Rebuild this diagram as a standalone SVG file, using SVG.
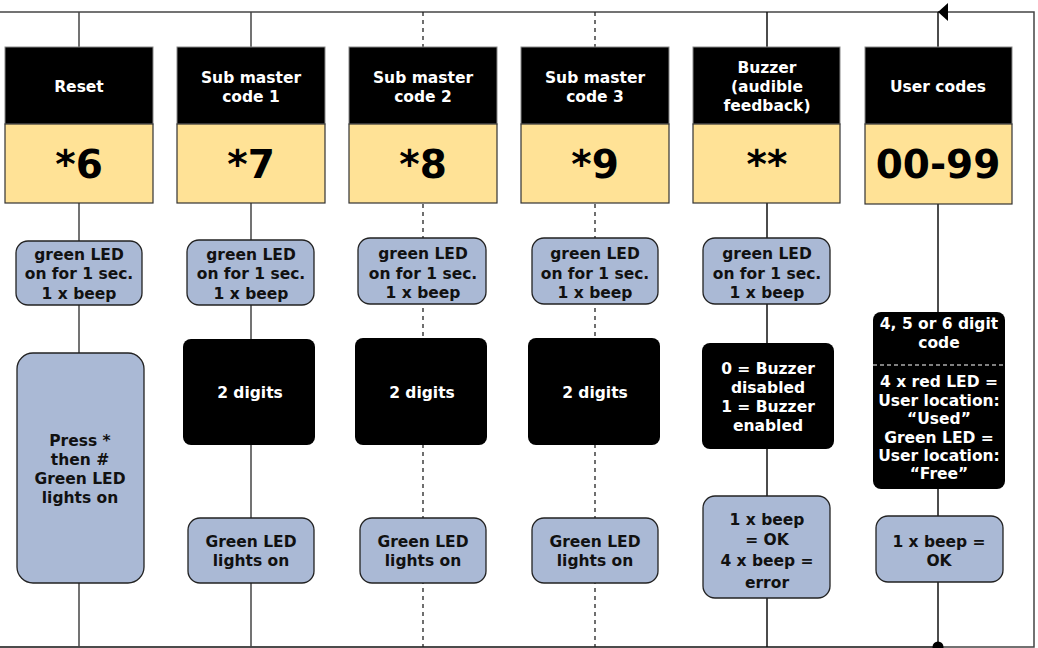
<svg xmlns="http://www.w3.org/2000/svg" width="1038" height="648" viewBox="0 0 1038 648">
<defs>
<style>
text{font-family:"DejaVu Sans","Liberation Sans",sans-serif;font-weight:bold;text-anchor:middle}
.hd{fill:#000;stroke:#888;stroke-width:1}
.yl{fill:#FFE296;stroke:#333;stroke-width:1.2}
.bl{fill:#AAB9D5;stroke:#222;stroke-width:1.3}
.bk{fill:#000}
.wt{fill:#fff;font-size:15.5px}
.dk{fill:#111;font-size:15.5px}
.big{fill:#000;font-size:39px}
.ln{stroke:#444;stroke-width:1.5;fill:none}
.dl{stroke:#222;stroke-width:1.3;fill:none;stroke-dasharray:4 4}
</style>
<marker id="arr" markerWidth="10" markerHeight="18" refX="10" refY="9" orient="auto" markerUnits="userSpaceOnUse">
<path d="M0,0 L10,9 L0,18 Z" fill="#000"/>
</marker>
</defs>
<rect width="1038" height="648" fill="#fff"/>
<g id="connectors">
<line class="ln" x1="0" y1="12" x2="938" y2="12"/>
<path class="ln" d="M938,647 L1034,647 L1034,12 L947,12"/>
<line x1="948" y1="12" x2="938" y2="12" stroke="#000" stroke-width="1.5" marker-end="url(#arr)"/>
<line class="ln" x1="0" y1="647" x2="938" y2="647" style="stroke:#111"/>
<line class="ln" x1="79" y1="12" x2="79" y2="647"/>
<line class="ln" x1="251" y1="12" x2="251" y2="647"/>
<line class="dl" x1="423" y1="12" x2="423" y2="647"/>
<line class="dl" x1="595" y1="12" x2="595" y2="647"/>
<line class="ln" x1="767" y1="12" x2="767" y2="647" style="stroke:#111"/>
<line class="ln" x1="938" y1="12" x2="938" y2="647" style="stroke:#111"/>
<circle cx="938" cy="647" r="5.5" fill="#000"/>
</g>
<g id="h1"><rect class="hd" x="5" y="47" width="148" height="77"/><text class="wt" x="79" y="92">Reset</text>
<rect class="yl" x="5" y="124" width="148" height="79"/><text class="big" x="79" y="178">*6</text></g>
<g id="h2"><rect class="hd" x="177" y="47" width="148" height="77"/><text class="wt" x="251" y="83">Sub master</text><text class="wt" x="251" y="102">code 1</text>
<rect class="yl" x="177" y="124" width="148" height="79"/><text class="big" x="251" y="178">*7</text></g>
<g id="h3"><rect class="hd" x="349" y="47" width="148" height="77"/><text class="wt" x="423" y="83">Sub master</text><text class="wt" x="423" y="102">code 2</text>
<rect class="yl" x="349" y="124" width="148" height="79"/><text class="big" x="423" y="178">*8</text></g>
<g id="h4"><rect class="hd" x="521" y="47" width="148" height="77"/><text class="wt" x="595" y="83">Sub master</text><text class="wt" x="595" y="102">code 3</text>
<rect class="yl" x="521" y="124" width="148" height="79"/><text class="big" x="595" y="178">*9</text></g>
<g id="h5"><rect class="hd" x="693" y="47" width="147" height="77"/><text class="wt" x="767" y="73">Buzzer</text><text class="wt" x="767" y="92">(audible</text><text class="wt" x="767" y="111">feedback)</text>
<rect class="yl" x="693" y="124" width="147" height="79"/><text class="big" x="767" y="178">**</text></g>
<g id="h6"><rect class="hd" x="865" y="47" width="147" height="77"/><text class="wt" x="938" y="92">User codes</text>
<rect class="yl" x="865" y="124" width="147" height="80"/><text class="big" x="938" y="178">00-99</text></g>
<g id="led1"><rect class="bl" x="16" y="241" width="126" height="64" rx="12"/><text class="dk" x="79" y="260">green LED</text><text class="dk" x="79" y="279">on for 1 sec.</text><text class="dk" x="79" y="299">1 x beep</text></g>
<g id="led2"><rect class="bl" x="187" y="240" width="127" height="65" rx="12"/><text class="dk" x="251" y="260">green LED</text><text class="dk" x="251" y="279">on for 1 sec.</text><text class="dk" x="251" y="299">1 x beep</text></g>
<g id="led3"><rect class="bl" x="358" y="238" width="128" height="66" rx="12"/><text class="dk" x="423" y="259">green LED</text><text class="dk" x="423" y="279">on for 1 sec.</text><text class="dk" x="423" y="298">1 x beep</text></g>
<g id="led4"><rect class="bl" x="532" y="238" width="126" height="66" rx="12"/><text class="dk" x="595" y="259">green LED</text><text class="dk" x="595" y="279">on for 1 sec.</text><text class="dk" x="595" y="298">1 x beep</text></g>
<g id="led5"><rect class="bl" x="703" y="238" width="127" height="66" rx="12"/><text class="dk" x="767" y="259">green LED</text><text class="dk" x="767" y="279">on for 1 sec.</text><text class="dk" x="767" y="298">1 x beep</text></g>
<g id="reset"><rect class="bl" x="17" y="353" width="127" height="230" rx="16"/><text class="dk" x="80" y="446">Press *</text><text class="dk" x="80" y="465">then #</text><text class="dk" x="80" y="484">Green LED</text><text class="dk" x="80" y="503">lights on</text></g>
<g id="dig2"><rect class="bk" x="183" y="339" width="132" height="106" rx="8"/><text class="wt" x="250" y="398">2 digits</text></g>
<g id="dig3"><rect class="bk" x="355" y="338" width="132" height="107" rx="8"/><text class="wt" x="422" y="398">2 digits</text></g>
<g id="dig4"><rect class="bk" x="528" y="338" width="132" height="107" rx="8"/><text class="wt" x="595" y="398">2 digits</text></g>
<g id="buz"><rect class="bk" x="702" y="343" width="132" height="106" rx="8"/><text class="wt" x="768" y="374">0 = Buzzer</text><text class="wt" x="768" y="393">disabled</text><text class="wt" x="768" y="412">1 = Buzzer</text><text class="wt" x="768" y="431">enabled</text></g>
<g id="ucode"><rect class="bk" x="873" y="312" width="132" height="177" rx="8"/><line x1="873" y1="365" x2="1005" y2="365" stroke="#fff" stroke-width="1.2" stroke-dasharray="4 3"/>
<text class="wt" x="939" y="329">4, 5 or 6 digit</text><text class="wt" x="939" y="348">code</text>
<text class="wt" x="939" y="387">4 x red LED =</text><text class="wt" x="939" y="406">User location:</text><text class="wt" x="939" y="424">“Used”</text><text class="wt" x="939" y="443">Green LED =</text><text class="wt" x="939" y="461">User location:</text><text class="wt" x="939" y="479">“Free”</text></g>
<g id="on2"><rect class="bl" x="188" y="518" width="126" height="65" rx="12"/><text class="dk" x="251" y="547">Green LED</text><text class="dk" x="251" y="566">lights on</text></g>
<g id="on3"><rect class="bl" x="360" y="518" width="126" height="65" rx="12"/><text class="dk" x="423" y="547">Green LED</text><text class="dk" x="423" y="566">lights on</text></g>
<g id="on4"><rect class="bl" x="532" y="518" width="126" height="65" rx="12"/><text class="dk" x="595" y="547">Green LED</text><text class="dk" x="595" y="566">lights on</text></g>
<g id="beep5"><rect class="bl" x="703" y="496" width="127" height="102" rx="12"/><text class="dk" x="767" y="525">1 x beep</text><text class="dk" x="767" y="545">= OK</text><text class="dk" x="767" y="566">4 x beep =</text><text class="dk" x="767" y="588">error</text></g>
<g id="beep6"><rect class="bl" x="876" y="516" width="127" height="66" rx="12"/><text class="dk" x="939" y="547">1 x beep =</text><text class="dk" x="939" y="566">OK</text></g>
</svg>
